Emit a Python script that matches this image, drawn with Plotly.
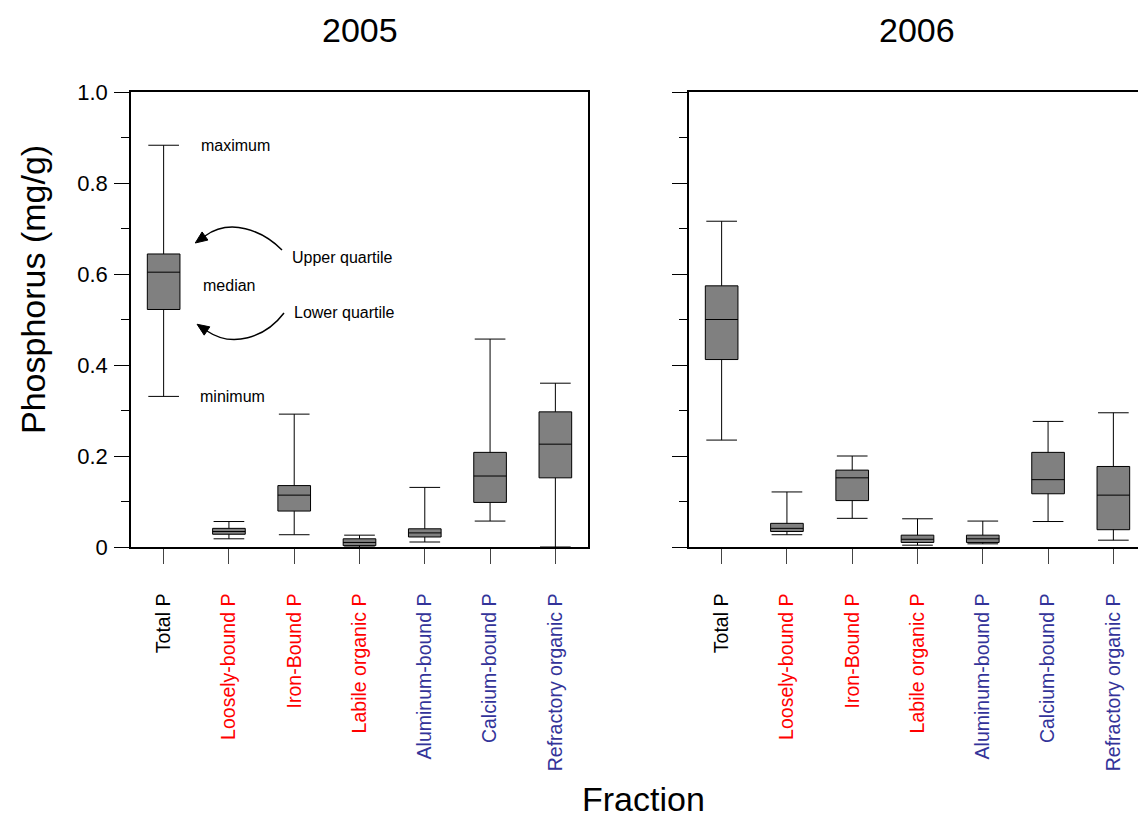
import plotly.graph_objects as go

# Phosphorus fractions (mg/g) in sediments, 2005 and 2006
categories = ["Total P", "Loosely-bound P", "Iron-Bound P", "Labile organic P",
              "Aluminum-bound P", "Calcium-bound P", "Refractory organic P"]
label_colors = ["#000000", "#FF0000", "#FF0000", "#FF0000", "#333399", "#333399", "#333399"]

min_2005 = [0.331, 0.018, 0.027, 0.000, 0.011, 0.057, 0.000]
q1_2005 = [0.522, 0.028, 0.079, 0.003, 0.022, 0.098, 0.152]
med_2005 = [0.604, 0.034, 0.114, 0.010, 0.031, 0.156, 0.226]
q3_2005 = [0.644, 0.041, 0.135, 0.018, 0.040, 0.208, 0.297]
max_2005 = [0.883, 0.056, 0.292, 0.026, 0.131, 0.457, 0.360]

min_2006 = [0.235, 0.027, 0.063, 0.004, 0.007, 0.056, 0.015]
q1_2006 = [0.412, 0.034, 0.102, 0.010, 0.010, 0.117, 0.038]
med_2006 = [0.500, 0.041, 0.152, 0.017, 0.018, 0.148, 0.114]
q3_2006 = [0.574, 0.052, 0.169, 0.026, 0.026, 0.208, 0.177]
max_2006 = [0.716, 0.121, 0.200, 0.062, 0.057, 0.276, 0.295]

y_tickvals = [0, 0.2, 0.4, 0.6, 0.8, 1.0]
y_ticktext = ["0", "0.2", "0.4", "0.6", "0.8", "1.0"]
y_minor = [0.1, 0.3, 0.5, 0.7, 0.9]

W, H = 1138, 822
FONT = "Liberation Sans, Arial, sans-serif"
positions = list(range(len(categories)))
ticktext = [f"<span style='color:{c}'>{t}</span>" for t, c in zip(categories, label_colors)]

fig = go.Figure()


def add_boxes(lo, q1, med, q3, hi, xa, ya):
    fig.add_trace(go.Box(
        x=positions, lowerfence=lo, q1=q1, median=med, q3=q3, upperfence=hi,
        xaxis=xa, yaxis=ya, width=0.5, whiskerwidth=0.94,
        fillcolor="#808080", line=dict(color="#000000", width=1),
        boxpoints=False, showlegend=False, hoverinfo="y",
    ))


add_boxes(min_2005, q1_2005, med_2005, q3_2005, max_2005, "x", "y")
add_boxes(min_2006, q1_2006, med_2006, q3_2006, max_2006, "x2", "y2")

# panel geometry in pixels
L1, R1, L2, R2 = 131, 588, 689, 1138
TOP, BOT = 92, 547
unit = (R1 - L1) / 7.0
right_range_end = -0.5 + (R2 - L2) / unit

xcommon = dict(
    tickmode="array", tickvals=positions, ticktext=ticktext, tickangle=-90,
    ticks="outside", ticklen=15, tickcolor="#444444", tickwidth=1,
    showline=True, linecolor="#000000", linewidth=1.5, mirror=True,
    showgrid=False, zeroline=False, ticklabelstandoff=22, automargin=False,
    tickfont=dict(family=FONT, size=19.5, color="#000000"),
)
ycommon = dict(
    range=[0, 1.0], tickmode="array", tickvals=y_tickvals, ticktext=y_ticktext,
    ticks="outside", ticklen=15, tickcolor="#000000", tickwidth=1,
    minor=dict(tickvals=y_minor, ticks="outside", ticklen=8, tickcolor="#000000", tickwidth=1),
    showline=True, linecolor="#000000", linewidth=1.5, automargin=False,
    showgrid=False, zeroline=False, ticklabelstandoff=2,
    tickfont=dict(family=FONT, size=22, color="#000000"),
)

ydom = [(H - BOT) / H, (H - TOP) / H]

fig.update_layout(
    width=W, height=H, margin=dict(l=0, r=0, t=0, b=0, autoexpand=False),
    paper_bgcolor="#FFFFFF", plot_bgcolor="#FFFFFF",
    font=dict(family=FONT, color="#000000"),
    xaxis=dict(xcommon, domain=[L1 / W, R1 / W], range=[-0.5, 6.5], anchor="y"),
    xaxis2=dict(xcommon, domain=[L2 / W, R2 / W], range=[-0.5, right_range_end], anchor="y2"),
    yaxis=dict(ycommon, domain=ydom, anchor="x", mirror=True),
    yaxis2=dict(ycommon, domain=ydom, anchor="x2", mirror=False, showticklabels=False),
)


# pixel -> data helpers for the explanatory callouts in the 2005 panel
def dx(px):
    return (px - (L1 + unit / 2)) / unit


def dy(py):
    return (BOT - py) / (BOT - TOP)


def curved_arrow(p0, c1, c2, p3, head_len=12, head_half=5):
    path = (f"M {dx(p0[0])},{dy(p0[1])} C {dx(c1[0])},{dy(c1[1])} "
            f"{dx(c2[0])},{dy(c2[1])} {dx(p3[0])},{dy(p3[1])}")
    fig.add_shape(type="path", path=path, xref="x", yref="y",
                  line=dict(color="#000000", width=1.5))
    vx, vy = p3[0] - c2[0], p3[1] - c2[1]
    n = (vx ** 2 + vy ** 2) ** 0.5
    ux, uy = vx / n, vy / n
    tip = (p3[0] + ux * head_len, p3[1] + uy * head_len)
    b1 = (p3[0] - uy * head_half, p3[1] + ux * head_half)
    b2 = (p3[0] + uy * head_half, p3[1] - ux * head_half)
    tri = (f"M {dx(tip[0])},{dy(tip[1])} L {dx(b1[0])},{dy(b1[1])} "
           f"L {dx(b2[0])},{dy(b2[1])} Z")
    fig.add_shape(type="path", path=tri, xref="x", yref="y",
                  fillcolor="#000000", line=dict(color="#000000", width=1))


curved_arrow((282, 250), (262, 230), (230, 218), (205, 236))
curved_arrow((284, 313), (265, 338), (232, 348), (207, 331))

callouts = [
    ("maximum", dx(199), max_2005[0]),
    ("Upper quartile", dx(290), dy(257)),
    ("median", dx(201), dy(285)),
    ("Lower quartile", dx(292), dy(312)),
    ("minimum", dx(198), min_2005[0]),
]
for text, x, y in callouts:
    fig.add_annotation(x=x, y=y, xref="x", yref="y", text=text, showarrow=False,
                       xanchor="left", yanchor="middle",
                       font=dict(family=FONT, size=16, color="#000000"))

# panel titles and axis titles
fig.add_annotation(x=0.5, y=1 - 30 / H, xref="x domain", yref="paper", text="2005",
                   showarrow=False, xanchor="center", yanchor="middle",
                   font=dict(family=FONT, size=34, color="#000000"))
fig.add_annotation(x=917 / W, y=1 - 30 / H, xref="paper", yref="paper", text="2006",
                   showarrow=False, xanchor="center", yanchor="middle",
                   font=dict(family=FONT, size=34, color="#000000"))
fig.add_annotation(x=643 / W, y=2 / H, xref="paper", yref="paper", text="Fraction",
                   showarrow=False, xanchor="center", yanchor="bottom",
                   font=dict(family=FONT, size=34, color="#000000"))
fig.add_annotation(x=33 / W, y=1 - 290 / H, xref="paper", yref="paper",
                   text="Phosphorus (mg/g)", textangle=-90,
                   showarrow=False, xanchor="center", yanchor="middle",
                   font=dict(family=FONT, size=34, color="#000000"))

fig.write_html("out.html")
